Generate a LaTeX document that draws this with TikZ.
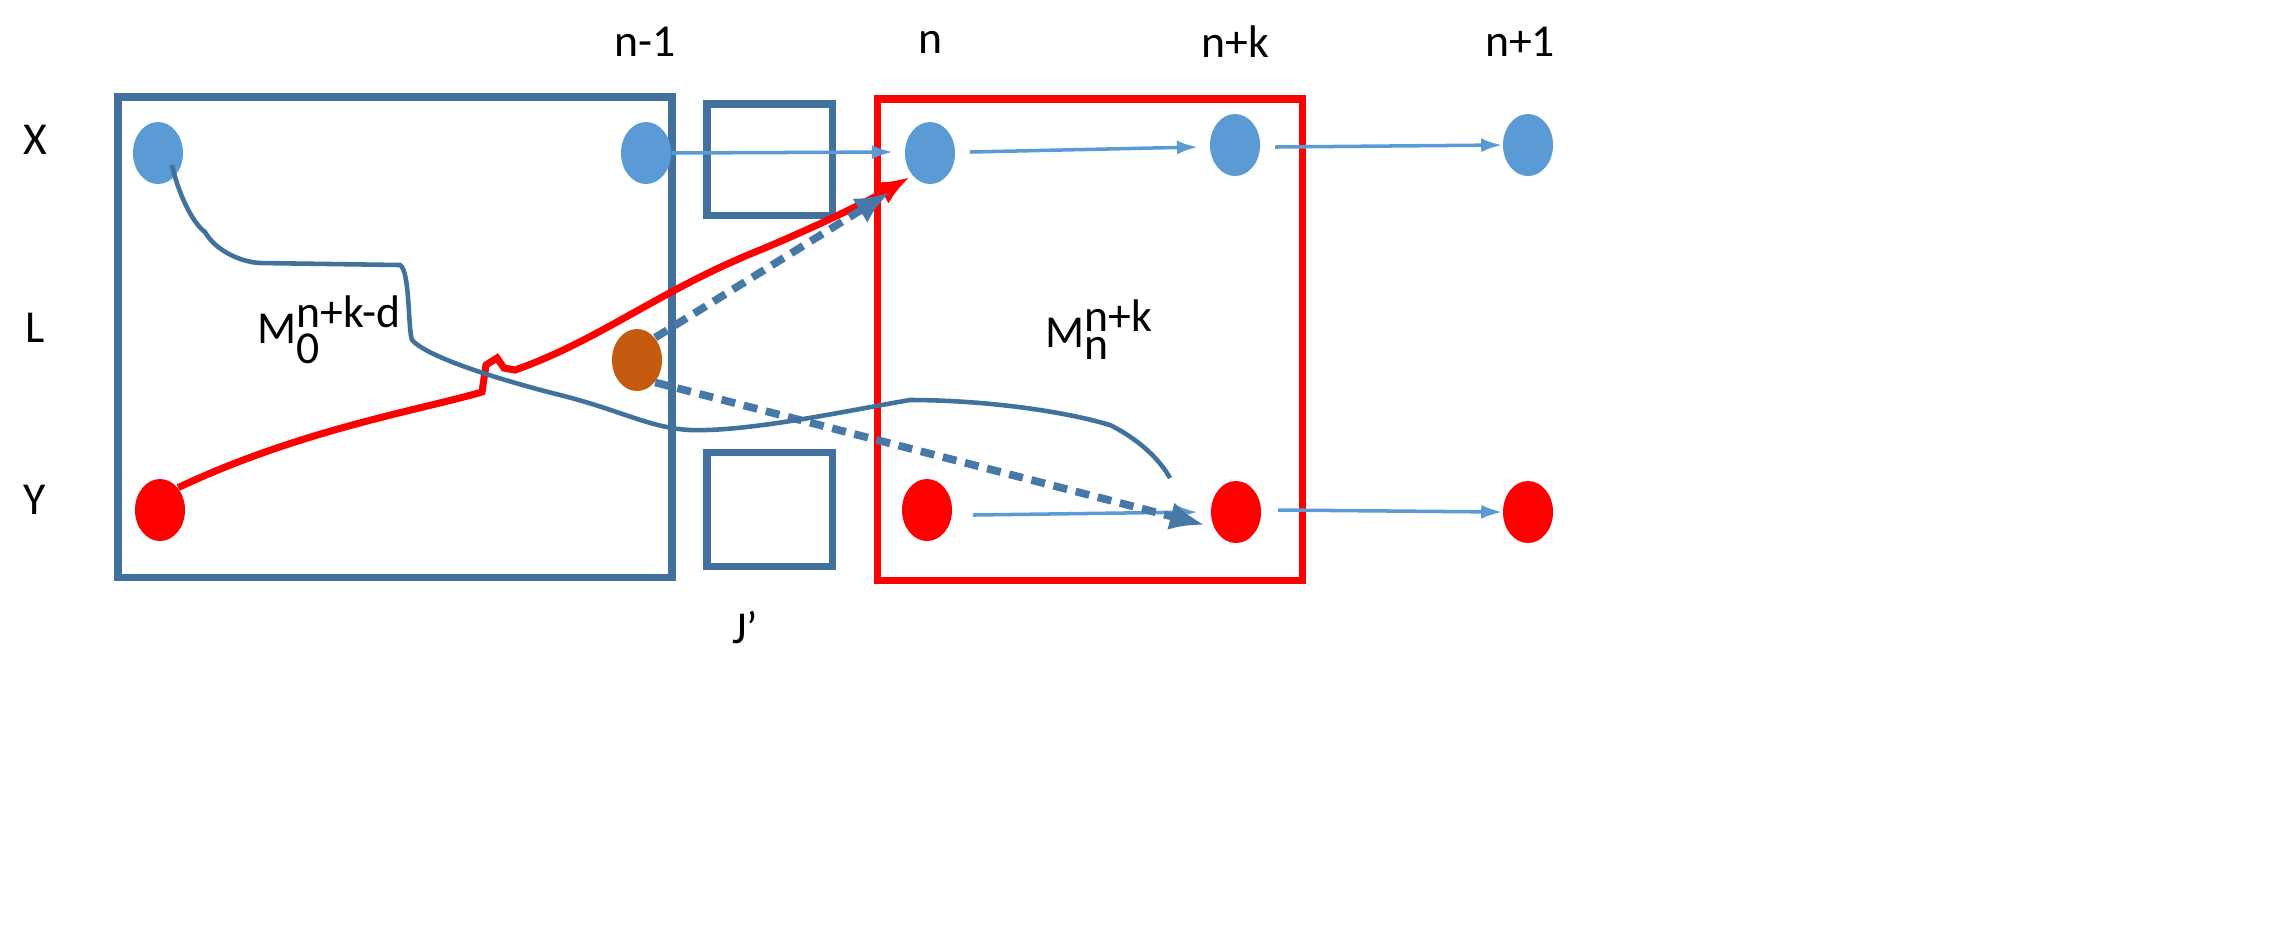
\documentclass[tikz,border=0pt]{standalone}
\usepackage{fontspec}
\setmainfont{Carlito}
\usetikzlibrary{arrows.meta,shapes.geometric}
\definecolor{boxblue}{HTML}{41719C}
\definecolor{lblue}{HTML}{5B9BD5}
\definecolor{brownc}{HTML}{C55A11}
\begin{document}
\begin{tikzpicture}[x=0.01cm,y=-0.01cm,
 box/.style={draw=boxblue,line width=2pt},
 bdot/.style={ellipse,fill=lblue,minimum width=0.5cm,minimum height=0.62cm,inner sep=0pt},
 rdot/.style={ellipse,fill=red,minimum width=0.5cm,minimum height=0.62cm,inner sep=0pt},
 thinar/.style={draw=lblue,line width=1pt,-{Latex[length=6pt,width=4pt]}},
 dashar/.style={draw=boxblue!80!lblue,line width=2.2pt,dash pattern=on 4pt off 2.5pt,-{Latex[length=10pt,width=8pt]}},
 lab/.style={font=\fontsize{13}{15}\selectfont}]
\useasboundingbox (0,0) rectangle (2280,941);
\draw[box] (118,97) rectangle (672,577);
\draw[box] (707,104) rectangle (832,215);
\draw[box] (707,452) rectangle (832,566);
\draw[draw=red,line width=2pt] (877,99) rectangle (1302,580);
\node[lab] (lx) at (35,140) {X};
\node[lab] (ll) at (35,328) {L};
\node[lab] (ly) at (35,500) {Y};
\node[lab] (t1) at (645,42) {n-1};
\node[lab] (t2) at (930,42) {n};
\node[lab] (t3) at (1235,42) {n+k};
\node[lab] (t4) at (1520,42) {n+1};
\node[lab] (tj) at (745,628) {J’};
\node[lab] (m0) at (330,330) {M$_{\textrm{0}}^{\textrm{n+k-d}}$};
\node[lab] (mn) at (1100,330) {M$_{\textrm{n}}^{\textrm{n+k}}$};
\node[bdot] (x0) at (158,153) {};
\node[bdot] (x1) at (646,153) {};
\node[bdot] (x2) at (930,153) {};
\node[bdot] (x3) at (1235,145) {};
\node[bdot] (x4) at (1528,145) {};
\node[rdot] (y0) at (160,510) {};
\node[rdot] (y2) at (927,510) {};
\node[rdot] (y3) at (1236,512) {};
\node[rdot] (y4) at (1528,512) {};
\node[ellipse,fill=brownc,minimum width=0.5cm,minimum height=0.62cm,inner sep=0pt] (l1) at (637,360) {};
\coordinate (a1) at (970,152);
\coordinate (a2) at (1198,147);
\coordinate (a3) at (1275,147);
\coordinate (b1) at (973,515);
\coordinate (b2) at (1198,512);
\coordinate (b3) at (1278,510);
\draw[thinar] (x1.east) -- (893,152);
\draw[thinar] (a1) -- (a2);
\draw[thinar] (a3) -- (x4.west);
\draw[thinar] (b1) -- (b2);
\draw[thinar] (b3) -- (y4.west);
\draw[red,line width=2pt,-{Latex[length=9pt,width=7pt]}] (y0.north east) .. controls (300,430) and (420,410) .. (482,392) -- (486,365) -- (497,358) -- (504,368) -- (515,370) .. controls (600,340) and (660,290) .. (760,250) .. controls (820,225) and (870,200) .. (910,177);
\draw[dashar] (l1.north east) -- (890,192);
\draw[dashar] (l1.south east) -- (1205,525);
\draw[boxblue,line width=1.3pt] (172,165) .. controls (180,200) and (195,225) .. (205,232) .. controls (215,250) and (240,262) .. (260,263) -- (400,265) .. controls (410,270) and (408,330) .. (412,340) .. controls (430,360) and (520,385) .. (560,395) .. controls (620,410) and (650,428) .. (690,430) .. controls (750,432) and (850,410) .. (910,400) .. controls (980,400) and (1060,410) .. (1110,425) .. controls (1140,440) and (1160,460) .. (1170,478);
\end{tikzpicture}
\end{document}
